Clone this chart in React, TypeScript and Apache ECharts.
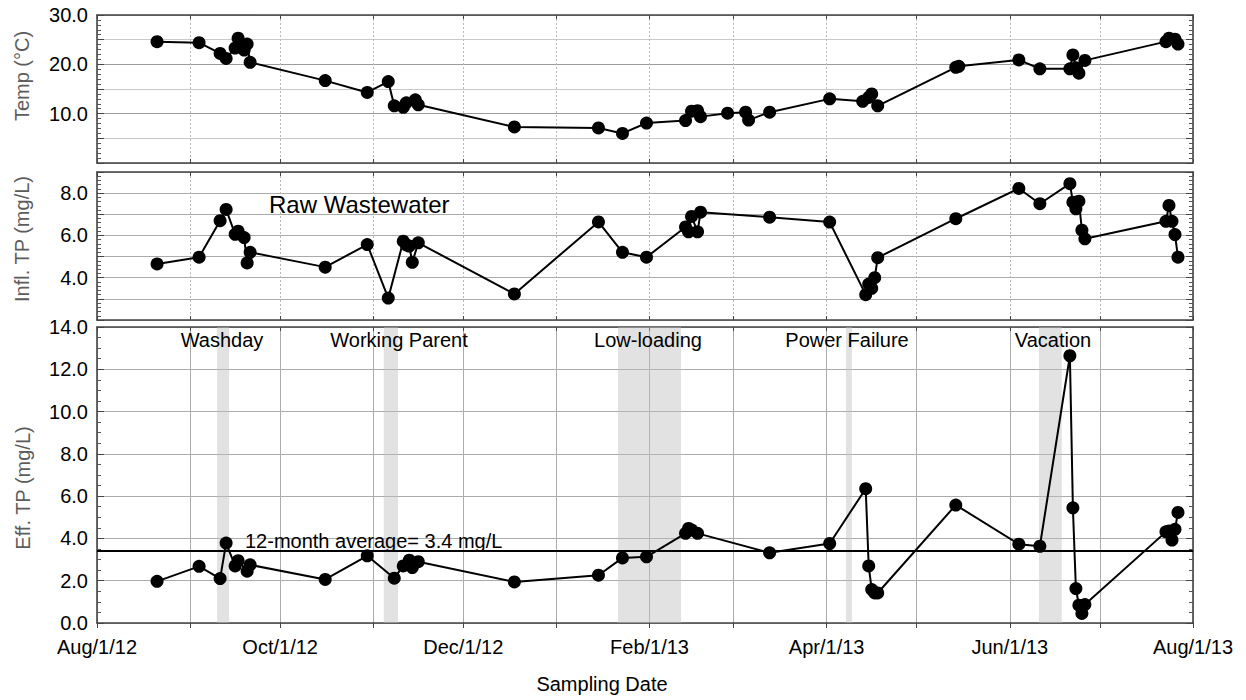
import React, { useEffect, useRef } from "react";
import * as echarts from "echarts";

// ---------------- data ----------------
const X_MIN = "2012-08-01";
const X_MAX = "2013-08-01";
const MONTHS = ["Jan", "Feb", "Mar", "Apr", "May", "Jun", "Jul", "Aug", "Sep", "Oct", "Nov", "Dec"];

const TEMP_DATES = [
  "2012-08-21", "2012-09-04", "2012-09-11", "2012-09-13", "2012-09-16", "2012-09-17", "2012-09-19",
  "2012-09-20", "2012-09-21", "2012-10-16", "2012-10-30", "2012-11-06", "2012-11-08", "2012-11-11",
  "2012-11-12", "2012-11-15", "2012-11-16", "2012-12-18", "2013-01-15", "2013-01-23", "2013-01-31",
  "2013-02-13", "2013-02-15", "2013-02-17", "2013-02-18", "2013-02-27", "2013-03-05", "2013-03-06",
  "2013-03-13", "2013-04-02", "2013-04-13", "2013-04-15", "2013-04-16", "2013-04-18", "2013-05-14",
  "2013-05-15", "2013-06-04", "2013-06-11", "2013-06-21", "2013-06-22", "2013-06-23", "2013-06-24",
  "2013-06-26", "2013-07-23", "2013-07-24", "2013-07-26", "2013-07-27",
];
const TEMP_VALUES = [
  24.6, 24.4, 22.2, 21.2, 23.3, 25.3, 22.9,
  24.1, 20.4, 16.7, 14.3, 16.5, 11.6, 11.3,
  12.2, 12.8, 11.8, 7.3, 7.1, 6.0, 8.1,
  8.6, 10.5, 10.6, 9.4, 10.1, 10.3, 8.7,
  10.3, 13.0, 12.5, 13.3, 14.0, 11.6, 19.4,
  19.6, 20.9, 19.1, 19.1, 21.9, 19.3, 18.2,
  20.8, 24.6, 25.3, 25.1, 24.1,
];

const INF_DATES = [
  "2012-08-21", "2012-09-04", "2012-09-11", "2012-09-13", "2012-09-16", "2012-09-17", "2012-09-19",
  "2012-09-20", "2012-09-21", "2012-10-16", "2012-10-30", "2012-11-06", "2012-11-11", "2012-11-12",
  "2012-11-13", "2012-11-14", "2012-11-16", "2012-12-18", "2013-01-15", "2013-01-23", "2013-01-31",
  "2013-02-13", "2013-02-14", "2013-02-15", "2013-02-17", "2013-02-18", "2013-03-13", "2013-04-02",
  "2013-04-14", "2013-04-15", "2013-04-16", "2013-04-17", "2013-04-18", "2013-05-14", "2013-06-04",
  "2013-06-11", "2013-06-21", "2013-06-22", "2013-06-23", "2013-06-24", "2013-06-25", "2013-06-26",
  "2013-07-23", "2013-07-24", "2013-07-25", "2013-07-26", "2013-07-27",
];
const INF_VALUES = [
  4.65, 4.97, 6.7, 7.23, 6.05, 6.2, 5.9,
  4.7, 5.2, 4.5, 5.57, 3.04, 5.73, 5.55,
  5.5, 4.73, 5.65, 3.23, 6.64, 5.2, 4.97,
  6.4, 6.17, 6.9, 6.17, 7.1, 6.86, 6.63,
  3.2, 3.7, 3.5, 4.0, 4.95, 6.79, 8.22,
  7.5, 8.45, 7.57, 7.26, 7.62, 6.25, 5.84,
  6.67, 7.42, 6.67, 6.04, 4.97,
];

const EFF_DATES = [
  "2012-08-21", "2012-09-04", "2012-09-11", "2012-09-13", "2012-09-16", "2012-09-17", "2012-09-20",
  "2012-09-21", "2012-10-16", "2012-10-30", "2012-11-08", "2012-11-11", "2012-11-13", "2012-11-14",
  "2012-11-16", "2012-12-18", "2013-01-15", "2013-01-23", "2013-01-31", "2013-02-13", "2013-02-14",
  "2013-02-15", "2013-02-17", "2013-03-13", "2013-04-02", "2013-04-14", "2013-04-15", "2013-04-16",
  "2013-04-17", "2013-04-18", "2013-05-14", "2013-06-04", "2013-06-11", "2013-06-21", "2013-06-22",
  "2013-06-23", "2013-06-24", "2013-06-25", "2013-06-26", "2013-07-23", "2013-07-24", "2013-07-25",
  "2013-07-26", "2013-07-27",
];
const EFF_VALUES = [
  1.97, 2.68, 2.1, 3.78, 2.7, 2.95, 2.45,
  2.75, 2.06, 3.18, 2.12, 2.7, 2.97, 2.62,
  2.9, 1.94, 2.26, 3.08, 3.13, 4.24, 4.47,
  4.4, 4.24, 3.32, 3.76, 6.35, 2.7, 1.58,
  1.42, 1.42, 5.58, 3.73, 3.63, 12.64, 5.45,
  1.63, 0.84, 0.45, 0.87, 4.31, 4.35, 3.92,
  4.43, 5.23,
];

const EFF_AVERAGE = 3.4;

const EVENT_NAMES = ["Washday", "Working Parent", "Low-loading", "Power Failure", "Vacation"];
const EVENT_STARTS = ["2012-09-10", "2012-11-04T12:00", "2013-01-21T12:00", "2013-04-07T10:00", "2013-06-10T17:00"];
const EVENT_ENDS = ["2012-09-14", "2012-11-09T06:00", "2013-02-11T12:00", "2013-04-09T10:00", "2013-06-18T07:00"];

// ---------------- styling ----------------
const FONT = "Liberation Sans, Arial, Helvetica, sans-serif";
const DAY = 86400000;
const AXIS_COLOR = "#444";
const GRIDS = [
  { left: 97, top: 15, width: 1096, height: 148 },
  { left: 97, top: 172, width: 1096, height: 148 },
  { left: 97, top: 327, width: 1096, height: 296 },
];

function xLabel(value: number) {
  const d = new Date(value);
  if (d.getMonth() % 2 !== 1 || d.getDate() !== 1) return "";
  const yy = String(d.getFullYear() % 100).padStart(2, "0");
  return `${MONTHS[d.getMonth()]}/${d.getDate()}/${yy}`;
}

function makeXAxis(gridIndex: number, position: "top" | "bottom") {
  const isBottomMain = gridIndex === 2 && position === "bottom";
  return {
    type: "time",
    gridIndex,
    position,
    min: X_MIN,
    max: X_MAX,
    splitNumber: 12,
    minInterval: 28 * DAY,
    maxInterval: 31 * DAY,
    axisLine: { show: true, onZero: false, lineStyle: { color: AXIS_COLOR, width: 1.6 } },
    axisTick: {
      show: true,
      inside: !isBottomMain,
      length: isBottomMain ? 5 : 4,
      lineStyle: { color: AXIS_COLOR, width: 1 },
    },
    axisLabel: {
      show: isBottomMain,
      formatter: xLabel,
      color: "#000",
      fontFamily: FONT,
      fontSize: 20,
      margin: 14,
      showMinLabel: true,
      showMaxLabel: true,
      hideOverlap: false,
    },
    splitLine: {
      show: position === "bottom",
      lineStyle:
        gridIndex === 2
          ? { color: "#ababab", width: 1, type: "solid" }
          : { color: "#b8b8b8", width: 1, type: [2, 2] },
    },
  };
}

function makeYAxis(
  gridIndex: number,
  position: "left" | "right",
  min: number,
  max: number,
  interval: number,
  minorSplit: number,
  fmt: (v: number) => string,
  splitColors: string | string[]
) {
  const left = position === "left";
  return {
    type: "value",
    gridIndex,
    position,
    min,
    max,
    interval,
    axisLine: { show: true, lineStyle: { color: AXIS_COLOR, width: 1.6 } },
    axisTick: { show: true, inside: true, length: 7, lineStyle: { color: AXIS_COLOR, width: 1 } },
    minorTick: { show: true, splitNumber: minorSplit, length: 4, lineStyle: { color: "#555", width: 1 } },
    axisLabel: {
      show: left,
      formatter: fmt,
      color: "#000",
      fontFamily: FONT,
      fontSize: 20,
      margin: 9,
      showMinLabel: true,
      showMaxLabel: true,
    },
    splitLine: { show: left, lineStyle: { color: splitColors, width: 1 } },
  };
}

function toPairs(dates: string[], values: number[]) {
  return dates.map((d, i) => [d, values[i]]);
}

function lineSeries(name: string, idx: number, data: any[], extra: any = {}) {
  return {
    name,
    type: "line",
    xAxisIndex: idx * 2,
    yAxisIndex: idx * 2,
    data,
    symbol: "circle",
    symbolSize: 13,
    showSymbol: true,
    itemStyle: { color: "#000" },
    lineStyle: { color: "#000", width: 2 },
    z: 5,
    ...extra,
  };
}

function text(t: string, x: number, y: number, size: number, align = "center", color = "#000", rotation = 0) {
  return {
    type: "text",
    x,
    y,
    rotation,
    z: 20,
    style: { text: t, fill: color, font: `${size}px ${FONT}`, align, verticalAlign: "middle" },
  };
}

const EVENT_LABEL_X = [222, 399, 648, 847, 1053];

export default function App() {
  const ref = useRef<HTMLDivElement>(null);
  useEffect(() => {
    document.body.style.margin = "0";
    const chart = echarts.init(ref.current!, null, { renderer: "svg" });
    const option: any = {
      animation: false,
      backgroundColor: "#fff",
      textStyle: { fontFamily: FONT },
      grid: GRIDS.map((g) => ({ ...g, show: false, outerBoundsMode: "none", containLabel: false })),
      xAxis: [
        makeXAxis(0, "bottom"),
        makeXAxis(0, "top"),
        makeXAxis(1, "bottom"),
        makeXAxis(1, "top"),
        makeXAxis(2, "bottom"),
        makeXAxis(2, "top"),
      ],
      yAxis: [
        makeYAxis(0, "left", 0, 30, 5, 5, (v) => (v > 0 && v % 10 === 0 ? v.toFixed(1) : ""), ["#9c9c9c", "#c8c8c8"]),
        makeYAxis(0, "right", 0, 30, 5, 5, () => "", "#aaa"),
        makeYAxis(1, "left", 2, 9, 1, 5, (v) => (v >= 4 && v % 2 === 0 ? v.toFixed(1) : ""), "#ababab"),
        makeYAxis(1, "right", 2, 9, 1, 5, () => "", "#aaa"),
        makeYAxis(2, "left", 0, 14, 2, 4, (v) => v.toFixed(1), "#ababab"),
        makeYAxis(2, "right", 0, 14, 2, 4, () => "", "#aaa"),
      ],
      series: [
        lineSeries("Temp", 0, toPairs(TEMP_DATES, TEMP_VALUES)),
        lineSeries("Infl. TP", 1, toPairs(INF_DATES, INF_VALUES)),
        lineSeries("Eff. TP", 2, toPairs(EFF_DATES, EFF_VALUES), {
          markLine: {
            silent: true,
            symbol: ["none", "none"],
            label: { show: false },
            lineStyle: { color: "#000", width: 2, type: "solid" },
            data: [{ yAxis: EFF_AVERAGE }],
          },
          markArea: {
            silent: true,
            itemStyle: { color: "rgba(188,190,188,0.45)" },
            data: EVENT_STARTS.map((s, i) => [{ xAxis: s }, { xAxis: EVENT_ENDS[i] }]),
          },
        }),
      ],
      graphic: [
        ...EVENT_NAMES.map((n, i) => text(n, EVENT_LABEL_X[i], 340, 20)),
        text("Raw Wastewater", 269, 204, 24, "left"),
        text(`12-month average= ${EFF_AVERAGE} mg/L`, 245, 541, 20, "left"),
        text("Temp (\u00B0C)", 22, 76, 20, "center", "#5c5c5c", Math.PI / 2),
        text("Infl. TP (mg/L)", 22, 239, 20, "center", "#5c5c5c", Math.PI / 2),
        text("Eff. TP (mg/L)", 23, 488, 20, "center", "#5c5c5c", Math.PI / 2),
        text("Sampling Date", 602, 684, 20, "center"),
      ],
    };
    chart.setOption(option);
    return () => chart.dispose();
  }, []);
  return <div ref={ref} style={{ width: 1246, height: 700 }} />;
}
